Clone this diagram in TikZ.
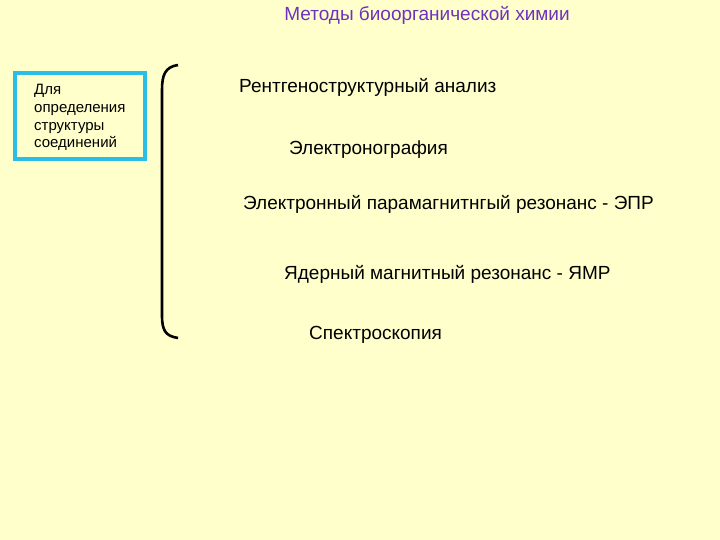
\documentclass[tikz,border=0pt]{standalone}
\usepackage{fontspec}
\setmainfont{Liberation Sans}
\definecolor{bg}{RGB}{255,255,204}
\definecolor{boxc}{RGB}{40,190,230}
\definecolor{titlec}{RGB}{110,50,190}
\begin{document}
\begin{tikzpicture}[x=1pt,y=-1pt,
  item/.style={anchor=west,inner sep=0pt,font=\fontsize{19}{22}\selectfont},
  small/.style={anchor=north west,inner sep=0pt,align=left,font=\fontsize{15}{17.8}\selectfont}]
\fill[bg] (0,0) rectangle (720,540);
\useasboundingbox (0,0) rectangle (720,540);
\node[anchor=center,inner sep=0pt,text=titlec,font=\fontsize{19}{22}\selectfont] (title) at (427,15) {Методы биоорганической химии};
\draw[boxc,line width=4pt] (15,73) rectangle (145,159);
\node[small] (lbl) at (34,84) {Для\\определения\\структуры\\соединений};
\draw[black,line width=2.6pt] (178,65) .. controls (165,67) and (162,75) .. (162,90) -- (162,315) .. controls (162,330) and (165,336) .. (178,338);
\node[item] (a) at (239,87) {Рентгеноструктурный анализ};
\node[item] (b) at (289,150) {Электронография};
\node[item] (c) at (243,204) {Электронный парамагнитнгый резонанс - ЭПР};
\node[item] (d) at (284,274) {Ядерный магнитный резонанс - ЯМР};
\node[item] (e) at (309,335) {Спектроскопия};
\end{tikzpicture}
\end{document}
